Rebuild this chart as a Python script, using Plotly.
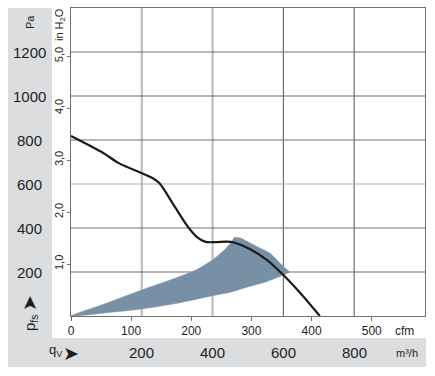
import plotly.graph_objects as go

# ---- data ----
curve_q = [0, 90, 135, 230, 250, 290, 330, 355, 380, 410, 440, 460, 505, 555, 600, 650, 703]
curve_p = [818, 742, 695, 627, 603, 505, 406, 360, 337, 336, 338, 334, 305, 253, 186, 100, 0]

range_upper_q = [0, 100, 200, 300, 350, 400, 430, 450, 463, 480, 506, 530, 562, 600, 618]
range_upper_p = [0, 58, 118, 175, 207, 255, 295, 330, 358, 353, 332, 312, 285, 225, 200]
range_lower_q = [0, 100, 200, 300, 364, 400, 450, 506, 550, 600, 618]
range_lower_p = [0, 15, 32, 58, 80, 92, 108, 135, 155, 186, 200]

pa_ticks = [200, 400, 600, 800, 1000, 1200]
m3h_ticks = [200, 400, 600, 800]
cfm_ticks = [0, 100, 200, 300, 400, 500]
inh2o_ticks = [1, 2, 3, 4, 5]
inh2o_labels = ["1,0", "2,0", "3,0", "4,0", "5,0"]

CFM_TO_M3H = 1.699
PA_PER_INH2O = 236.25
Q_MAX = 1000
P_MAX = 1400

W, H = 435, 376
L, R, T, B = 71, 10, 8, 60
PW, PH = W - L - R, H - T - B

def fx(px):
    return (px - L) / PW

def fy(py):
    return (H - B - py) / PH

FONT = "Liberation Sans Narrow, Liberation Sans, Arial Narrow, sans-serif"
GRAY_PANEL = "#dcdddf"
DARK = "#707070"
LIGHT = "#c4c4c4"
FILL = "#7890a6"
TXT = "#1e1e1e"

fig = go.Figure()

# operating range area
fig.add_trace(go.Scatter(
    x=range_upper_q + range_lower_q[::-1],
    y=range_upper_p + range_lower_p[::-1],
    fill="toself", fillcolor=FILL, mode="lines",
    line=dict(color=FILL, width=0.5, shape="spline", smoothing=0.6),
    hoverinfo="skip", showlegend=False, xaxis="x", yaxis="y"))

# fan curve
fig.add_trace(go.Scatter(
    x=curve_q, y=curve_p, mode="lines",
    line=dict(color="#1a1a1a", width=2.2, shape="spline", smoothing=0.8),
    showlegend=False, xaxis="x", yaxis="y"))

# invisible helpers for secondary axes
fig.add_trace(go.Scatter(x=[0], y=[0], xaxis="x2", yaxis="y", mode="markers",
                         marker=dict(opacity=0), showlegend=False, hoverinfo="skip"))
fig.add_trace(go.Scatter(x=[0], y=[0], xaxis="x", yaxis="y2", mode="markers",
                         marker=dict(opacity=0), showlegend=False, hoverinfo="skip"))

shapes = []
# gray L-shaped panel
shapes.append(dict(type="rect", xref="paper", yref="paper", x0=fx(8), x1=fx(52),
                   y0=fy(367), y1=fy(8), fillcolor=GRAY_PANEL, line=dict(width=0), layer="below"))
shapes.append(dict(type="rect", xref="paper", yref="paper", x0=fx(8), x1=fx(426),
                   y0=fy(367), y1=fy(338), fillcolor=GRAY_PANEL, line=dict(width=0), layer="below"))
# vertical grid (m3/h)
for q in m3h_ticks:
    light = q < 500
    shapes.append(dict(type="line", xref="x", yref="paper", x0=q, x1=q, y0=0, y1=1,
                       line=dict(color=LIGHT if light else DARK, width=2.5 if light else 1.2),
                       layer="below"))
# horizontal grid (Pa)
for p in pa_ticks:
    light = p == 600
    shapes.append(dict(type="line", xref="paper", yref="y", x0=0, x1=1, y0=p, y1=p,
                       line=dict(color="#b0b0b0" if light else DARK, width=1.2),
                       layer="below"))

annotations = []
for p in pa_ticks:
    annotations.append(dict(text=str(p), xref="paper", yref="y", x=fx(29), y=p,
                            showarrow=False, xanchor="center", yanchor="middle",
                            font=dict(family=FONT, size=15, color=TXT)))
for q in m3h_ticks:
    annotations.append(dict(text=str(q), xref="x", yref="paper", x=q, y=fy(352),
                            showarrow=False, xanchor="center", yanchor="middle",
                            font=dict(family=FONT, size=15, color=TXT)))
annotations.append(dict(text="m³/h", xref="paper", yref="paper", x=fx(407), y=fy(353),
                        showarrow=False, xanchor="center", yanchor="middle",
                        font=dict(family=FONT, size=11, color=TXT)))
annotations.append(dict(text="cfm", xref="paper", yref="paper", x=fx(404), y=fy(331),
                        showarrow=False, xanchor="center", yanchor="middle",
                        font=dict(family=FONT, size=12, color=TXT)))
annotations.append(dict(text="Pa", xref="paper", yref="paper", x=fx(30), y=fy(22),
                        showarrow=False, textangle=-90, xanchor="center", yanchor="middle",
                        font=dict(family=FONT, size=11, color=TXT)))
annotations.append(dict(text="in H<sub>2</sub>O", xref="paper", yref="paper", x=fx(60), y=fy(25),
                        showarrow=False, textangle=-90, xanchor="center", yanchor="middle",
                        font=dict(family=FONT, size=11, color=TXT)))
annotations.append(dict(text="➤", xref="paper", yref="paper", x=fx(29), y=fy(303),
                        showarrow=False, textangle=-90, xanchor="center", yanchor="middle",
                        font=dict(family="DejaVu Sans", size=19, color=TXT)))
annotations.append(dict(text="p<sub>fs</sub>", xref="paper", yref="paper", x=fx(30), y=fy(323),
                        showarrow=False, textangle=-90, xanchor="center", yanchor="middle",
                        font=dict(family=FONT, size=15, color=TXT)))
annotations.append(dict(text="q<sub>V</sub>", xref="paper", yref="paper", x=fx(56), y=fy(351),
                        showarrow=False, xanchor="center", yanchor="middle",
                        font=dict(family=FONT, size=13, color=TXT)))
annotations.append(dict(text="➤", xref="paper", yref="paper", x=fx(71), y=fy(353),
                        showarrow=False, xanchor="center", yanchor="middle",
                        font=dict(family="DejaVu Sans", size=19, color=TXT)))

fig.update_layout(
    width=W, height=H,
    margin=dict(l=L, r=R, t=T, b=B, pad=0),
    paper_bgcolor="white", plot_bgcolor="white",
    shapes=shapes, annotations=annotations,
    xaxis=dict(range=[0, Q_MAX], showgrid=False, zeroline=False, showticklabels=False,
               ticks="", showline=True, linecolor=DARK, linewidth=1.2, mirror=True),
    xaxis2=dict(range=[0, Q_MAX / CFM_TO_M3H], overlaying="x", side="bottom", anchor="y",
                tickvals=cfm_ticks, ticktext=[str(v) for v in cfm_ticks],
                ticks="outside", ticklen=4, tickcolor=DARK, tickwidth=1,
                showgrid=False, zeroline=False, showline=False,
                tickfont=dict(family=FONT, size=12, color=TXT)),
    yaxis=dict(range=[0, P_MAX], showgrid=False, zeroline=False, showticklabels=False,
               ticks="", showline=True, linecolor=DARK, linewidth=1.2, mirror=True),
    yaxis2=dict(range=[0, P_MAX / PA_PER_INH2O], overlaying="y", side="left", anchor="x",
                tickvals=inh2o_ticks, ticktext=inh2o_labels, tickangle=-90,
                ticks="outside", ticklen=3, tickcolor=DARK, tickwidth=1,
                showgrid=False, zeroline=False, showline=False,
                tickfont=dict(family=FONT, size=11, color=TXT)),
)

fig.write_html("out.html")
